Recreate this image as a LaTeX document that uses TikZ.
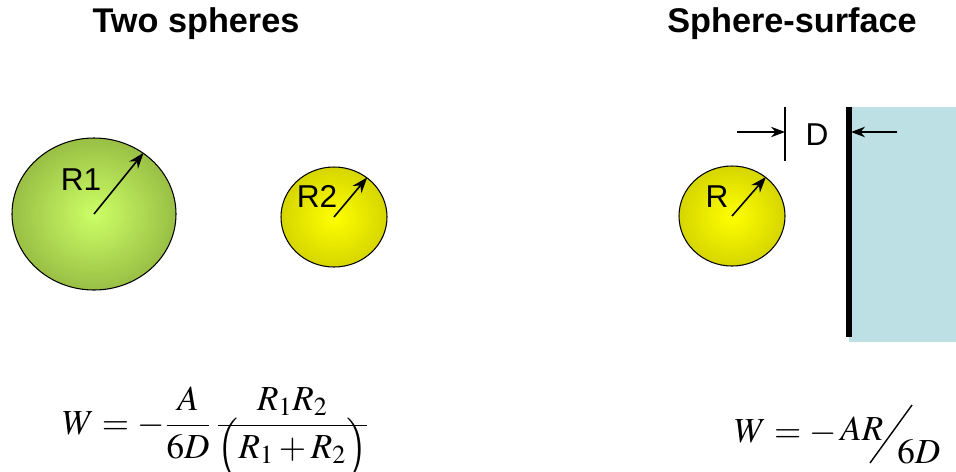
\documentclass[tikz,border=0pt]{standalone}
\usepackage{amsmath}
\usepackage{mathptmx}
\usepackage[no-math]{fontspec}
\setmainfont{Liberation Sans}
\usetikzlibrary{positioning, arrows.meta, shapes.geometric}
\definecolor{wallblue}{HTML}{BCE0E3}
\definecolor{greenedge}{HTML}{99BF45}
\definecolor{greencore}{HTML}{CCFF66}
\definecolor{yellowedge}{HTML}{D6D600}
\definecolor{yellowcore}{HTML}{FFFF00}
\begin{document}
\begin{tikzpicture}[x=0.02cm, y=-0.02cm,
  heading/.style={anchor=base, font=\fontsize{19.5}{22}\selectfont\bfseries},
  label/.style={anchor=base, font=\fontsize{18}{21}\selectfont},
  formula/.style={anchor=base west, inner sep=0pt, font=\fontsize{20}{24}\selectfont},
  greenball/.style={ellipse, draw, line width=0.6pt, shading=radial, inner color=greencore, outer color=greenedge},
  yellowball/.style={ellipse, draw, line width=0.6pt, shading=radial, inner color=yellowcore, outer color=yellowedge},
  radius arrow/.style={-{Stealth[length=9pt, width=6.5pt]}, line width=0.9pt},
  dim arrow/.style={-{Stealth[length=8pt, width=6pt]}, line width=0.7pt}]
\useasboundingbox (0,0) rectangle (956,471);

% Headings
\node[heading] (t1) at (196,32) {Two spheres};
\node[heading] (t2) at (792,32) {Sphere-surface};

% Two spheres
\node[greenball, minimum width=164*0.02cm, minimum height=152*0.02cm] (s1) at (94,214) {};
\node[yellowball, minimum width=106*0.02cm, minimum height=100*0.02cm] (s2) at (334,217) {};
\draw[radius arrow] (s1.center) -- (s1.51);
\draw[radius arrow] (s2.center) -- (s2.50);
\node[label] (r1) at (81,190) {R1};
\node[label] (r2) at (317,207) {R2};

% Sphere and surface
\fill[wallblue] (849,107) rectangle (956,342);
\coordinate (wtop) at (849,107);
\coordinate (wbot) at (849,337);
\draw[line width=3.2pt] (wtop) -- (wbot);
\node[yellowball, minimum width=106*0.02cm, minimum height=100*0.02cm] (s3) at (732,216) {};
\draw[radius arrow] (s3.center) -- (s3.49);
\node[label] (r3) at (717,207) {R};

% Gap D
\coordinate (gtop) at (785,107);
\coordinate (gbot) at (785,161);
\draw[line width=0.6pt] (gtop) -- (gbot);
\coordinate (la) at (737,132);
\coordinate (lb) at (785,132);
\coordinate (ra) at (897,132);
\coordinate (rb) at (851,132);
\draw[dim arrow] (la) -- (lb);
\draw[dim arrow] (ra) -- (rb);
\node[label] (d) at (817,145) {D};

% Formulas
\node[formula] (w1) at (62,434) {$W=-\dfrac{A}{6D}\,\dfrac{R_1R_2}{\rule{0pt}{15.5pt}\smash[t]{\Bigl(}R_1+R_2\smash[t]{\Bigr)}}$};
\node[formula] (w2) at (734,442) {$W=-$};
\node[formula] (ar) at (840,440) {$AR$};
\node[formula] (sd) at (897,463) {$6D$};
\coordinate (sl1) at (870,463);
\coordinate (sl2) at (912,405);
\draw[line width=0.8pt] (sl1) -- (sl2);
\end{tikzpicture}
\end{document}
